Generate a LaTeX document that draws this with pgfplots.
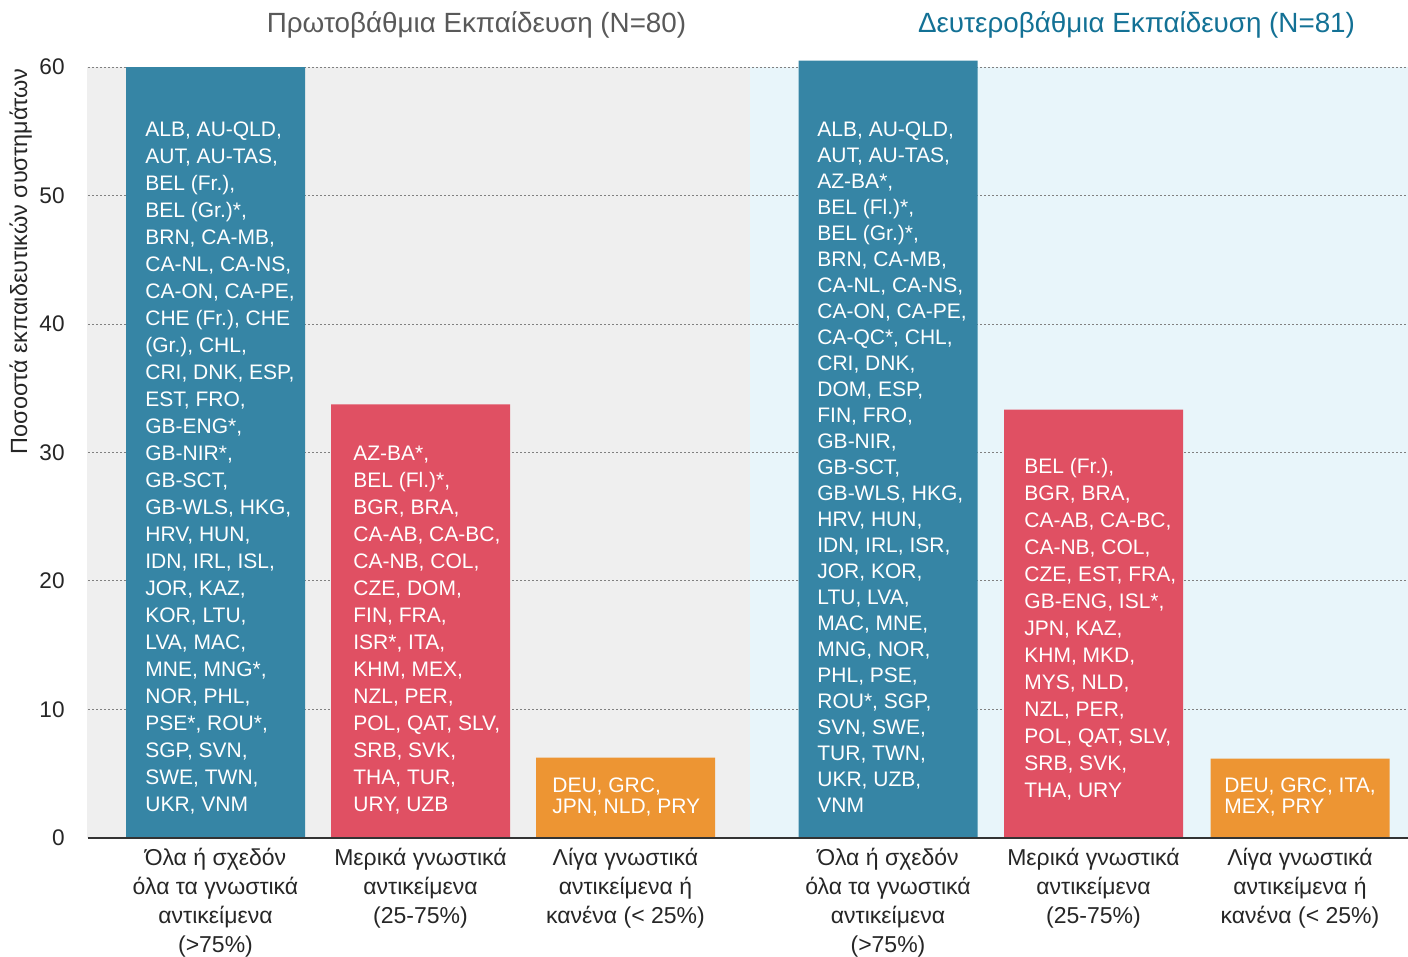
\documentclass[border=0pt]{standalone}
\usepackage{fontspec}
\setmainfont{Liberation Sans}
\usepackage{pgfplots}
\pgfplotsset{compat=1.18}
\definecolor{cblue}{HTML}{3685A5}
\definecolor{cred}{HTML}{E05063}
\definecolor{corange}{HTML}{ED9533}
\definecolor{bggray}{HTML}{EFEFEF}
\definecolor{bgblue}{HTML}{E8F5FA}
\definecolor{tgray}{HTML}{595959}
\definecolor{tteal}{HTML}{137195}
\definecolor{txt}{HTML}{262626}
\newcommand{\barlist}[2]{\parbox[t]{85pt}{\raggedright\fontsize{10.5}{#1}\selectfont #2}}
\begin{document}
\begin{tikzpicture}
\begin{axis}[
  set layers=standard,
  scale only axis, width=660pt, height=385.5pt,
  xmin=88, xmax=1408, ymin=0, ymax=60,
  clip=false,
  axis line style={draw=none},
  major tick length=0pt,
  ytick={0,10,20,30,40,50,60},
  ymajorgrids,
  grid style={draw=black!50, line width=0.5pt, dash pattern=on 1pt off 1pt},
  yticklabel style={anchor=east, inner sep=0pt, xshift=-11.5pt, text=txt, font=\fontsize{11.3}{13}\selectfont},
  /pgf/number format/assume math mode=true,
  xtick={215.5,420.5,625.5,888,1093.5,1300},
  xticklabels={
    {Όλα ή σχεδόν\\όλα τα γνωστικά\\αντικείμενα\\(>75\%)},
    {Μερικά γνωστικά\\αντικείμενα\\(25-75\%)},
    {Λίγα γνωστικά\\αντικείμενα ή\\κανένα (< 25\%)},
    {Όλα ή σχεδόν\\όλα τα γνωστικά\\αντικείμενα\\(>75\%)},
    {Μερικά γνωστικά\\αντικείμενα\\(25-75\%)},
    {Λίγα γνωστικά\\αντικείμενα ή\\κανένα (< 25\%)}},
  xticklabel style={align=center, anchor=north, inner sep=0pt, yshift=-5pt, text=txt, font=\fontsize{11.5}{14.5}\selectfont},
]
\begin{pgfonlayer}{axis background}
  \fill[bggray] (axis cs:87,0) rectangle (axis cs:750,60);
  \fill[bgblue] (axis cs:750,0) rectangle (axis cs:1408,60);
\end{pgfonlayer}
\addplot[ybar, bar width=179, bar shift=0pt, fill=cblue, draw=none] coordinates {(215.5,60) (888,60.49)};
\addplot[ybar, bar width=179, bar shift=0pt, fill=cred, draw=none] coordinates {(420.5,33.75) (1093.5,33.33)};
\addplot[ybar, bar width=179, bar shift=0pt, fill=corange, draw=none] coordinates {(625.5,6.25) (1300,6.17)};
\draw[color=black!80, line width=1pt] (axis cs:88,0) -- (axis cs:1408,0);
% lists
\node[anchor=base west, inner sep=0pt, text=white] at (axis cs:145,54.553) {\barlist{13.5pt}{ALB, AU-QLD,\\AUT, AU-TAS,\\BEL (Fr.),\\BEL (Gr.)*,\\BRN, CA-MB,\\CA-NL, CA-NS,\\CA-ON, CA-PE,\\CHE (Fr.), CHE\\(Gr.), CHL,\\CRI, DNK, ESP,\\EST, FRO,\\GB-ENG*,\\GB-NIR*,\\GB-SCT,\\GB-WLS, HKG,\\HRV, HUN,\\IDN, IRL, ISL,\\JOR, KAZ,\\KOR, LTU,\\LVA, MAC,\\MNE, MNG*,\\NOR, PHL,\\PSE*, ROU*,\\SGP, SVN,\\SWE, TWN,\\UKR, VNM}};
\node[anchor=base west, inner sep=0pt, text=white] at (axis cs:353,29.339) {\barlist{13.5pt}{AZ-BA*,\\BEL (Fl.)*,\\BGR, BRA,\\CA-AB, CA-BC,\\CA-NB, COL,\\CZE, DOM,\\FIN, FRA,\\ISR*, ITA,\\KHM, MEX,\\NZL, PER,\\POL, QAT, SLV,\\SRB, SVK,\\THA, TUR,\\URY, UZB}};
\node[anchor=base west, inner sep=0pt, text=white] at (axis cs:552,3.502) {\barlist{10.5pt}{DEU, GRC,\\JPN, NLD, PRY}};
\node[anchor=base west, inner sep=0pt, text=white] at (axis cs:817,54.63) {\barlist{13pt}{ALB, AU-QLD,\\AUT, AU-TAS,\\AZ-BA*,\\BEL (Fl.)*,\\BEL (Gr.)*,\\BRN, CA-MB,\\CA-NL, CA-NS,\\CA-ON, CA-PE,\\CA-QC*, CHL,\\CRI, DNK,\\DOM, ESP,\\FIN, FRO,\\GB-NIR,\\GB-SCT,\\GB-WLS, HKG,\\HRV, HUN,\\IDN, IRL, ISR,\\JOR, KOR,\\LTU, LVA,\\MAC, MNE,\\MNG, NOR,\\PHL, PSE,\\ROU*, SGP,\\SVN, SWE,\\TUR, TWN,\\UKR, UZB,\\VNM}};
\node[anchor=base west, inner sep=0pt, text=white] at (axis cs:1024,28.327) {\barlist{13.5pt}{BEL (Fr.),\\BGR, BRA,\\CA-AB, CA-BC,\\CA-NB, COL,\\CZE, EST, FRA,\\GB-ENG, ISL*,\\JPN, KAZ,\\KHM, MKD,\\MYS, NLD,\\NZL, PER,\\POL, QAT, SLV,\\SRB, SVK,\\THA, URY}};
\node[anchor=base west, inner sep=0pt, text=white] at (axis cs:1224,3.502) {\barlist{10.5pt}{DEU, GRC, ITA,\\MEX, PRY}};
% titles
\node[anchor=base, inner sep=0pt, text=tgray, font=\fontsize{13.9}{16}\selectfont] at (axis cs:476.5,62.65) {Πρωτοβάθμια Εκπαίδευση (N=80)};
\node[anchor=base, inner sep=0pt, text=tteal, font=\fontsize{13.9}{16}\selectfont] at (axis cs:1136.5,62.65) {Δευτεροβάθμια Εκπαίδευση (N=81)};
% y label
\node[rotate=90, anchor=base east, inner sep=0pt, text=txt, font=\fontsize{11.7}{14}\selectfont] at (axis cs:27,59.92) {Ποσοστά εκπαιδευτικών συστημάτων};
\end{axis}
\pgfresetboundingbox
\path[use as bounding box] (-44pt,-59.5pt) rectangle (660pt,419pt);
\end{tikzpicture}
\end{document}
